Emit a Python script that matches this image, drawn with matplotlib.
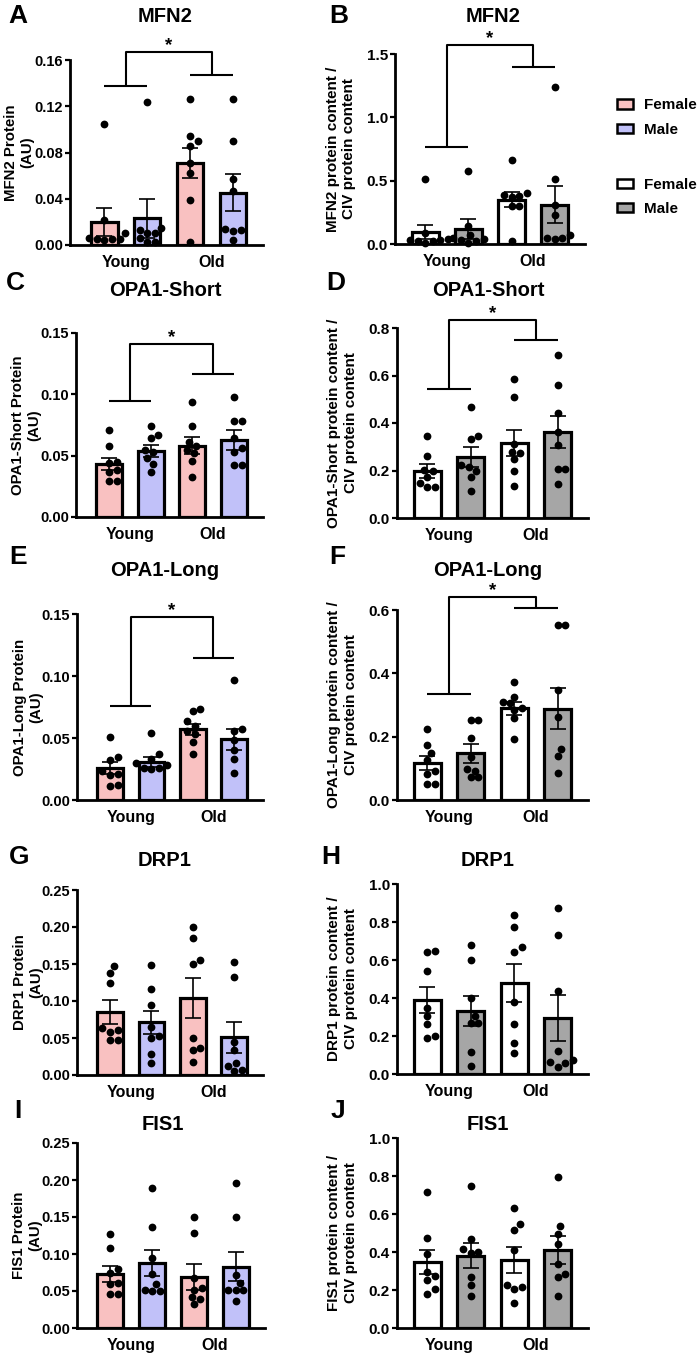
import matplotlib
matplotlib.use("Agg")
import matplotlib.pyplot as plt
from matplotlib.patches import Patch
import numpy as np

# ---------------- data (order: Young-Female, Young-Male, Old-Female, Old-Male) ----------------
groups = ["Young", "Old"]
sexes = ["Female", "Male"]

mfn2_au_mean = [0.020, 0.023, 0.071, 0.045]
mfn2_au_sem = [0.012, 0.017, 0.013, 0.016]
mfn2_au_pts = [
    [0.105, 0.022, 0.010, 0.005, 0.005, 0.006, 0.005, 0.004],
    [0.124, 0.015, 0.010, 0.006, 0.003, 0.003, 0.013, 0.010],
    [0.126, 0.094, 0.090, 0.086, 0.071, 0.062, 0.039, 0.003],
    [0.126, 0.090, 0.057, 0.047, 0.014, 0.012, 0.013, 0.004],
]
mfn2_civ_mean = [0.095, 0.118, 0.350, 0.310]
mfn2_civ_sem = [0.058, 0.079, 0.060, 0.145]
mfn2_civ_pts = [
    [0.51, 0.09, 0.04, 0.03, 0.02, 0.02, 0.01, 0.03],
    [0.58, 0.14, 0.07, 0.04, 0.03, 0.02, 0.01, 0.05],
    [0.66, 0.40, 0.39, 0.38, 0.37, 0.30, 0.30, 0.02],
    [1.24, 0.51, 0.31, 0.23, 0.07, 0.05, 0.04, 0.05],
]

opa1s_au_mean = [0.043, 0.054, 0.058, 0.063]
opa1s_au_sem = [0.005, 0.005, 0.007, 0.008]
opa1s_au_pts = [
    [0.071, 0.058, 0.045, 0.044, 0.038, 0.037, 0.029, 0.029],
    [0.074, 0.067, 0.064, 0.055, 0.053, 0.048, 0.043, 0.037],
    [0.094, 0.074, 0.061, 0.058, 0.055, 0.052, 0.046, 0.033],
    [0.098, 0.078, 0.078, 0.064, 0.056, 0.053, 0.042, 0.042],
]
opa1s_civ_mean = [0.197, 0.256, 0.317, 0.362]
opa1s_civ_sem = [0.029, 0.041, 0.055, 0.069]
opa1s_civ_pts = [
    [0.346, 0.263, 0.201, 0.200, 0.173, 0.149, 0.131, 0.130],
    [0.469, 0.346, 0.331, 0.225, 0.215, 0.200, 0.173, 0.115],
    [0.586, 0.511, 0.310, 0.279, 0.275, 0.248, 0.197, 0.134],
    [0.685, 0.561, 0.441, 0.361, 0.307, 0.207, 0.207, 0.144],
]

opa1l_au_mean = [0.026, 0.031, 0.057, 0.049]
opa1l_au_sem = [0.005, 0.004, 0.0045, 0.0085]
opa1l_au_pts = [
    [0.051, 0.035, 0.032, 0.023, 0.021, 0.020, 0.012, 0.011],
    [0.054, 0.037, 0.033, 0.030, 0.028, 0.026, 0.025, 0.026],
    [0.072, 0.073, 0.064, 0.060, 0.056, 0.053, 0.047, 0.037],
    [0.097, 0.057, 0.056, 0.048, 0.040, 0.033, 0.022],
]
opa1l_civ_mean = [0.118, 0.147, 0.289, 0.288]
opa1l_civ_sem = [0.022, 0.029, 0.021, 0.065]
opa1l_civ_pts = [
    [0.224, 0.173, 0.148, 0.125, 0.091, 0.083, 0.051, 0.051],
    [0.254, 0.254, 0.196, 0.135, 0.098, 0.072, 0.072, 0.093],
    [0.374, 0.326, 0.305, 0.310, 0.290, 0.284, 0.258, 0.193],
    [0.553, 0.553, 0.347, 0.263, 0.160, 0.139, 0.086],
]

drp1_au_mean = [0.085, 0.071, 0.104, 0.051]
drp1_au_sem = [0.016, 0.016, 0.027, 0.021]
drp1_au_pts = [
    [0.147, 0.138, 0.124, 0.063, 0.061, 0.058, 0.047, 0.047],
    [0.149, 0.116, 0.095, 0.065, 0.050, 0.053, 0.029, 0.016],
    [0.200, 0.185, 0.156, 0.150, 0.050, 0.037, 0.034, 0.018],
    [0.153, 0.132, 0.045, 0.034, 0.016, 0.012, 0.007, 0.005],
]
drp1_civ_mean = [0.390, 0.333, 0.478, 0.295]
drp1_civ_sem = [0.068, 0.078, 0.101, 0.122]
drp1_civ_pts = [
    [0.640, 0.647, 0.542, 0.349, 0.307, 0.263, 0.200, 0.188],
    [0.679, 0.600, 0.402, 0.305, 0.267, 0.267, 0.114, 0.042],
    [0.835, 0.772, 0.668, 0.642, 0.377, 0.261, 0.165, 0.109],
    [0.872, 0.732, 0.437, 0.121, 0.074, 0.061, 0.056, 0.035],
]

fis1_au_mean = [0.073, 0.088, 0.069, 0.083]
fis1_au_sem = [0.011, 0.018, 0.017, 0.020]
fis1_au_pts = [
    [0.127, 0.108, 0.080, 0.074, 0.061, 0.060, 0.046, 0.046],
    [0.189, 0.137, 0.095, 0.073, 0.059, 0.050, 0.050, 0.052],
    [0.150, 0.128, 0.067, 0.054, 0.052, 0.042, 0.039, 0.032],
    [0.196, 0.150, 0.071, 0.061, 0.052, 0.052, 0.052, 0.037],
]
fis1_civ_mean = [0.346, 0.381, 0.358, 0.412]
fis1_civ_sem = [0.063, 0.065, 0.070, 0.073]
fis1_civ_pts = [
    [0.716, 0.472, 0.391, 0.293, 0.275, 0.251, 0.205, 0.181],
    [0.746, 0.468, 0.398, 0.395, 0.416, 0.268, 0.228, 0.167],
    [0.633, 0.547, 0.514, 0.409, 0.228, 0.205, 0.216, 0.130],
    [0.795, 0.535, 0.496, 0.442, 0.339, 0.286, 0.268, 0.170],
]

# ---------------- styling ----------------
W, H = 699, 1356
plt.rcParams["font.family"] = ["Liberation Sans", "DejaVu Sans"]
plt.rcParams["font.weight"] = "bold"
plt.rcParams["axes.labelweight"] = "bold"

PINK = "#F9C1C1"
BLUE = "#C1C1F9"
WHITE = "#FFFFFF"
GREY = "#A6A6A6"
au_colors = [PINK, BLUE, PINK, BLUE]
civ_colors = [WHITE, GREY, WHITE, GREY]

fig = plt.figure(figsize=(W / 100, H / 100), dpi=100)


def add_ax(x0, x1, ytop, ybot):
    return fig.add_axes([x0 / W, 1 - ybot / H, (x1 - x0) / W, (ybot - ytop) / H])


def swarm_offsets(ax, xc, vals, d=7.6):
    T = ax.transData
    upx = T.transform((1, 0))[0] - T.transform((0, 0))[0]
    ypx = np.array([T.transform((xc, v))[1] for v in vals])
    order = np.argsort(ypx)
    placed = []
    offs = np.zeros(len(vals))
    step = d / 4.0
    cands = [0.0]
    for k in range(1, 40):
        cands += [k * step, -k * step]
    for i in order:
        y = ypx[i]
        for c in cands:
            ok = all((c - px) ** 2 + (y - py) ** 2 >= d * d for px, py in placed)
            if ok:
                placed.append((c, y))
                offs[i] = c / upx
                break
    return offs


def panel(pos, xlim, means, sems, pts, colors, ymax, yticks, fmt, ylabel, lab_x,
          tsize, lsize, lspace):
    ax = add_ax(*pos)
    x = np.arange(4)
    ax.set_xlim(*xlim)
    ax.set_ylim(0, ymax)
    ax.bar(x, means, width=0.62, color=colors, edgecolor="black", linewidth=2.3, zorder=2)
    ax.errorbar(x, means, yerr=sems, fmt="none", ecolor="black", elinewidth=1.2,
                capsize=6, capthick=1.2, zorder=3)
    for i in range(4):
        offs = swarm_offsets(ax, x[i], pts[i])
        ax.plot(x[i] + offs, pts[i], "o", color="black", markersize=5.6,
                markeredgewidth=0, zorder=4, clip_on=False)
    ax.set_yticks(yticks)
    ax.set_yticklabels([fmt.format(t) for t in yticks])
    ax.set_xticks([0.5, 2.5])
    ax.set_xticklabels(groups)
    ax.tick_params(axis="x", length=0, pad=7.5, labelsize=11.5)
    ax.tick_params(axis="y", length=3.6, width=1.6, pad=1.5, labelsize=tsize)
    for s in ["top", "right"]:
        ax.spines[s].set_visible(False)
    for s in ["left", "bottom"]:
        ax.spines[s].set_linewidth(2.0)
    ax.set_ylabel(ylabel, fontsize=lsize, fontweight="bold", va="center", linespacing=lspace)
    ax.yaxis.set_label_coords(lab_x, 0.5)
    ax.set_facecolor("none")
    return ax


def left_panel(pos, means, sems, pts, ymax, yticks, ylabel):
    return panel(pos, (-0.8, 3.7), means, sems, pts, au_colors, ymax, yticks, "{:.2f}",
                 ylabel, -0.265, 10.5, 10.8, 1.2)


def right_panel(pos, means, sems, pts, ymax, yticks, ylabel):
    return panel(pos, (-0.7, 3.7), means, sems, pts, civ_colors, ymax, yticks, "{:.1f}",
                 ylabel, -0.285, 11, 11, 1.2)


def bracket(ax, y_young, y_old, y_main):
    kw = dict(color="black", lw=1.5, clip_on=False, zorder=5, solid_capstyle="butt")
    ax.plot([0, 1], [y_young, y_young], **kw)
    ax.plot([2, 3], [y_old, y_old], **kw)
    ax.plot([0.5, 0.5, 2.5, 2.5], [y_young, y_main, y_main, y_old], **kw)
    ax.annotate("*", xy=(1.5, y_main), xytext=(0, 1.5), textcoords="offset points",
                ha="center", va="baseline", fontsize=13.5, fontweight="bold",
                annotation_clip=False)


def ftext(x, y, s, size, **kw):
    fig.text(x / W, 1 - y / H, s, ha="center", va="center", fontsize=size,
             fontweight="bold", **kw)


# A
axA = left_panel((70, 263, 60, 245), mfn2_au_mean, mfn2_au_sem, mfn2_au_pts,
                 0.16, [0, 0.04, 0.08, 0.12, 0.16], "MFN2 Protein\n(AU)")
bracket(axA, 0.1375, 0.147, 0.167)
# B
axB = right_panel((395, 585, 54, 244), mfn2_civ_mean, mfn2_civ_sem, mfn2_civ_pts,
                  1.5, [0, 0.5, 1.0, 1.5], "MFN2 protein content /\nCIV protein content")
bracket(axB, 0.766, 1.395, 1.568)
# C
axC = left_panel((76, 263, 333, 517), opa1s_au_mean, opa1s_au_sem, opa1s_au_pts,
                 0.15, [0, 0.05, 0.10, 0.15], "OPA1-Short Protein\n(AU)")
bracket(axC, 0.0948, 0.1167, 0.141)
# D
axD = right_panel((397, 588, 328, 518), opa1s_civ_mean, opa1s_civ_sem, opa1s_civ_pts,
                  0.8, [0, 0.2, 0.4, 0.6, 0.8],
                  "OPA1-Short protein content /\nCIV protein content")
bracket(axD, 0.544, 0.751, 0.832)
# E
axE = left_panel((77, 263, 614, 800), opa1l_au_mean, opa1l_au_sem, opa1l_au_pts,
                 0.15, [0, 0.05, 0.10, 0.15], "OPA1-Long Protein\n(AU)")
bracket(axE, 0.076, 0.1149, 0.1473)
# F
axF = right_panel((397, 588, 610, 800), opa1l_civ_mean, opa1l_civ_sem, opa1l_civ_pts,
                  0.6, [0, 0.2, 0.4, 0.6], "OPA1-Long protein content /\nCIV protein content")
bracket(axF, 0.334, 0.605, 0.642)
# G
axG = left_panel((77, 263, 890, 1075), drp1_au_mean, drp1_au_sem, drp1_au_pts,
                 0.25, [0, 0.05, 0.10, 0.15, 0.20, 0.25], "DRP1 Protein\n(AU)")
# H
axH = right_panel((397, 588, 884, 1074), drp1_civ_mean, drp1_civ_sem, drp1_civ_pts,
                  1.0, [0, 0.2, 0.4, 0.6, 0.8, 1.0], "DRP1 protein content /\nCIV protein content")
# I
axI = left_panel((77, 265, 1143, 1328), fis1_au_mean, fis1_au_sem, fis1_au_pts,
                 0.25, [0, 0.05, 0.10, 0.15, 0.20, 0.25], "FIS1 Protein\n(AU)")
# J
axJ = right_panel((397, 588, 1138, 1328), fis1_civ_mean, fis1_civ_sem, fis1_civ_pts,
                  1.0, [0, 0.2, 0.4, 0.6, 0.8, 1.0], "FIS1 protein content /\nCIV protein content")

# titles
titles = [(165, 16, "MFN2"), (493, 17, "MFN2"),
          (165, 291, "OPA1-Short"), (488, 291, "OPA1-Short"),
          (165, 570, "OPA1-Long"), (488, 570, "OPA1-Long"),
          (165, 861, "DRP1"), (488, 861, "DRP1"),
          (163, 1124, "FIS1"), (488, 1124, "FIS1")]
for x, y, s in titles:
    ftext(x, y, s, 14.5)

letters = [(18, 16, "A"), (339, 16, "B"), (15, 283, "C"), (336, 283, "D"),
           (18, 557, "E"), (337, 557, "F"), (19, 857, "G"), (331, 857, "H"),
           (18, 1111, "I"), (338, 1111, "J")]
for x, y, s in letters:
    ftext(x, y, s, 19)

# legends
prop = {"weight": "bold", "size": 11}
lkw = dict(loc="center left", frameon=False, prop=prop, handlelength=1.05, handleheight=0.55,
           handletextpad=0.7, labelspacing=0.68, borderpad=0, borderaxespad=0)
h1 = [Patch(facecolor=PINK, edgecolor="black", linewidth=1.8),
      Patch(facecolor=BLUE, edgecolor="black", linewidth=1.8)]
fig.legend(handles=h1, labels=sexes, bbox_to_anchor=(617 / W, 1 - 117.5 / H), **lkw)
h2 = [Patch(facecolor=WHITE, edgecolor="black", linewidth=1.8),
      Patch(facecolor=GREY, edgecolor="black", linewidth=1.8)]
fig.legend(handles=h2, labels=sexes, bbox_to_anchor=(617 / W, 1 - 197 / H), **lkw)

fig.savefig("out.png", dpi=100, facecolor="white")
